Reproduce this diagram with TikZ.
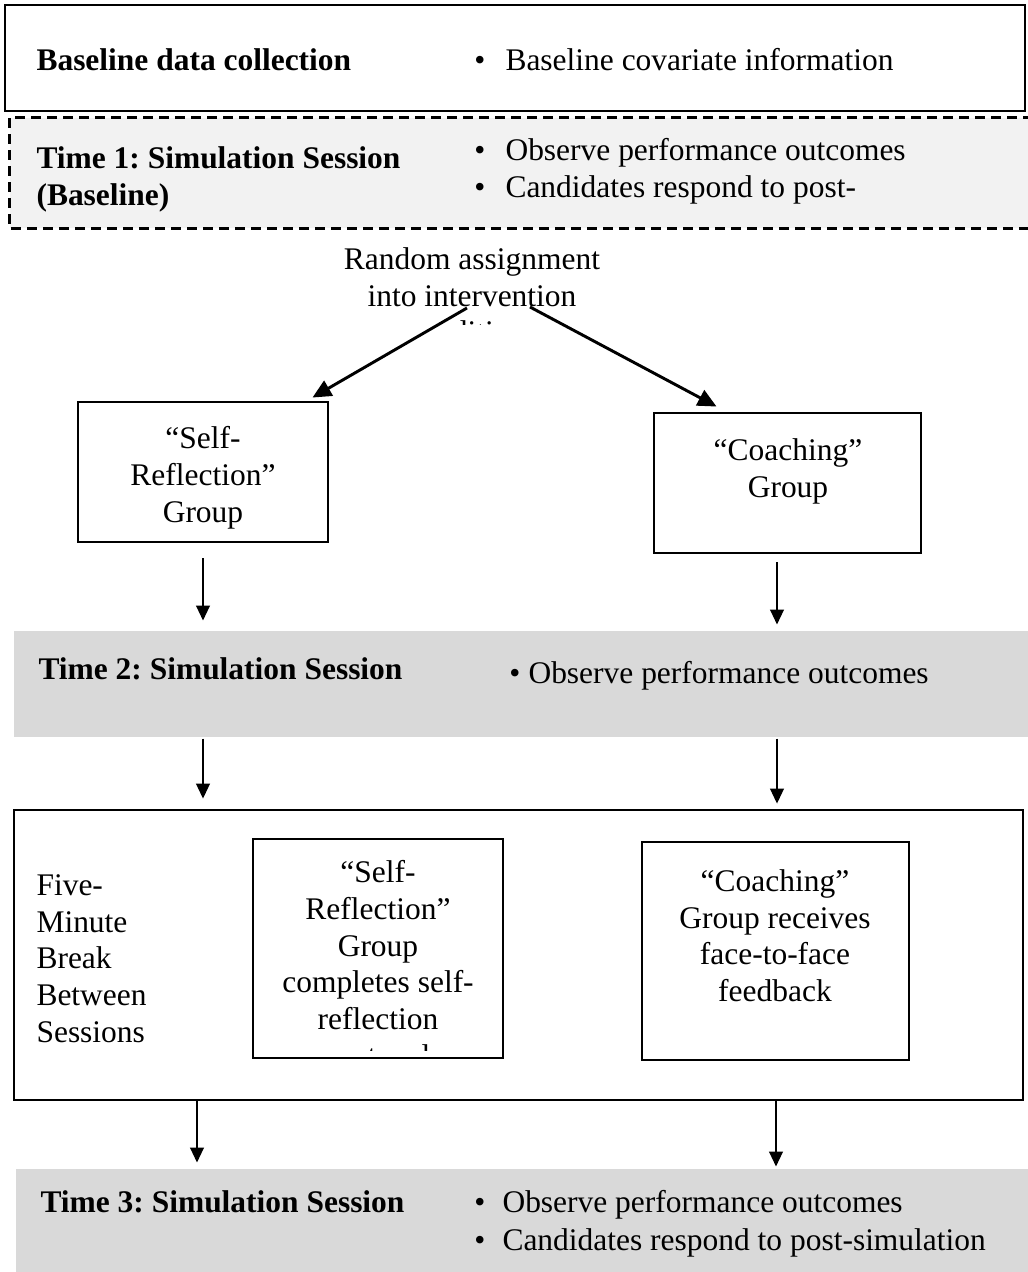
\documentclass[tikz,border=0pt]{standalone}
\usepackage{fontspec}
\setmainfont{Liberation Serif}
\usetikzlibrary{arrows.meta,calc,fit}
\definecolor{paleband}{HTML}{F2F2F2}
\definecolor{greyband}{HTML}{D9D9D9}
\frenchspacing

\begin{document}
\begin{tikzpicture}[x=0.375pt,y=-0.375pt,
  every node/.style={font=\fontsize{11.8}{13.75}\selectfont, inner sep=0pt},
  frame/.style={draw=black, line width=1.1pt, fill=white},
  band/.style={draw=none, fill=#1},
  head/.style={anchor=base west, font=\fontsize{11.8}{13.75}\selectfont\bfseries},
  item/.style={anchor=base west},
  dot/.style={anchor=base},
  block/.style={anchor=north, align=center},
  splitarrow/.style={line width=1.1pt, -{Triangle[length=7pt,width=6.4pt]}},
  downarrow/.style={line width=0.5pt, -{Triangle[length=5.6pt,width=5.2pt]}}]

\clip (0,0) rectangle (1028,1272);

% ---- baseline data collection ----
\node[frame, fit={(5,5) (1025,111)}] (base) {};
\node[head] (baseH) at (36,70) {Baseline data collection};
\node[dot] (baseB) at (480,70) {•};
\node[item] (baseI) at (505,70) {Baseline covariate information};

% ---- time 1 ----
\node[band=paleband, fit={(10,118) (1032,228)}] (t1) {};
\draw[line width=0.9pt, dash pattern=on 3.75pt off 2.25pt]
  (t1.north east) -- (t1.north west) -- (t1.south west) -- (t1.south east);
\node[head] (t1H) at (36,168) {Time 1: Simulation Session};
\node[head] (t1H2) at (36,205) {(Baseline)};
\node[dot] (t1B1) at (480,160) {•};
\node[item] (t1I1) at (505,160) {Observe performance outcomes};
\node[dot] (t1B2) at (480,197) {•};
\node[item] (t1I2) at (505,197) {Candidates respond to post-};

% ---- random assignment (third line cut off by its text frame) ----
\begin{scope}
  \clip (280,230) rectangle (680,324);
  \node[block] (rand) at (472,247) {Random assignment\\into intervention\\conditions};
\end{scope}
\coordinate (splitL) at (467,308);
\coordinate (splitR) at (530,307);

% ---- first group boxes ----
\node[frame, fit={(78,402) (328,542)}] (sr1) {};
\node[block] (sr1T) at (203,426) {“Self-\\Reflection”\\Group};
\node[frame, fit={(654,413) (921,553)}] (co1) {};
\node[block] (co1T) at (788,438) {“Coaching”\\Group};

\draw[splitarrow] (splitL) -- ($(sr1.north east)+(-17,-3)$);
\draw[splitarrow] (splitR) -- ($(co1.north west)+(64,-5)$);

% ---- time 2 ----
\node[band=greyband, fit={(14,631) (1032,737)}] (t2) {};
\node[head] (t2H) at (38,679) {Time 2: Simulation Session};
\node[dot] (t2B) at (515,683) {•};
\node[item] (t2I) at (528,683) {Observe performance outcomes};

% arrow columns
\coordinate (colA) at (203,0);
\coordinate (colB) at (777,0);
\coordinate (colC) at (197,0);
\coordinate (colD) at (776,0);

\draw[downarrow] ($(sr1.south -| colA)+(0,15)$) -- ($(t2.north -| colA)+(0,-10)$);
\draw[downarrow] ($(co1.south -| colB)+(0,8)$) -- ($(t2.north -| colB)+(0,-6)$);

% ---- break between sessions ----
\node[frame, fit={(14,810) (1023,1100)}] (brk) {};
\node[anchor=north west, align=left] (brkT) at (36,874)
  {Five-\\Minute\\Break\\Between\\Sessions};

\node[frame, fit={(253,839) (503,1058)}] (sr2) {};
\begin{scope}
  \clip (258,844) rectangle (498,1050);
  \node[block] (sr2T) at (378,860)
    {“Self-\\Reflection”\\Group\\completes self-\\reflection\\protocol};
\end{scope}

\node[frame, fit={(642,842) (909,1060)}] (co2) {};
\node[block] (co2T) at (775,869)
  {“Coaching”\\Group receives\\face-to-face\\feedback};

\draw[downarrow] ($(t2.south -| colA)+(0,1)$) -- ($(brk.north -| colA)+(0,-10)$);
\draw[downarrow] ($(t2.south -| colB)+(0,1)$) -- ($(brk.north -| colB)+(0,-5)$);

% ---- time 3 ----
\node[band=greyband, fit={(16,1169) (1032,1276)}] (t3) {};
\node[head] (t3H) at (40,1212) {Time 3: Simulation Session};
\node[dot] (t3B1) at (480,1212) {•};
\node[item] (t3I1) at (502,1212) {Observe performance outcomes};
\node[dot] (t3B2) at (480,1250) {•};
\node[item] (t3I2) at (502,1250) {Candidates respond to post-simulation};

\draw[downarrow] (brk.south -| colC) -- ($(t3.north -| colC)+(0,-6)$);
\draw[downarrow] (brk.south -| colD) -- ($(t3.north -| colD)+(0,-2)$);
\end{tikzpicture}
\end{document}
